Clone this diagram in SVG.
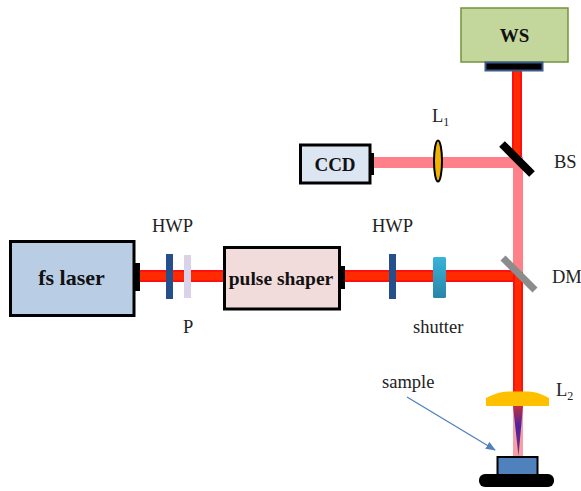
<svg xmlns="http://www.w3.org/2000/svg" width="581" height="491" viewBox="0 0 581 491">
<style>
.t{font-family:"Liberation Serif","Times New Roman",serif;font-size:18.500px;fill:#222}
.b{font-family:"Liberation Serif","Times New Roman",serif;font-weight:bold;fill:#111;text-anchor:middle}
.box{stroke:#000;stroke-width:3}
.red{fill:#ff2a00}
.edge{fill:#ff1010}
.pink{fill:#ff8088}
</style>
<defs>
<linearGradient id="sh" x1="0" y1="0" x2="0" y2="1"><stop offset="0" stop-color="#38b4d8"/><stop offset="1" stop-color="#2a84a8"/></linearGradient>
<linearGradient id="tri" x1="0" y1="0" x2="0" y2="1"><stop offset="0" stop-color="#c03040"/><stop offset="0.4" stop-color="#5020a0"/><stop offset="1" stop-color="#802a70"/></linearGradient>
<marker id="ah" markerWidth="10" markerHeight="8" refX="9" refY="4" orient="auto" markerUnits="userSpaceOnUse"><path d="M0 0L10 4L0 8Z" fill="#4f81bd"/></marker>
</defs>
<g id="connectors">
<rect class="edge" x="139" y="270" width="85" height="12"/>
<rect class="edge" x="345" y="270" width="173" height="12"/>
<rect class="red" x="139" y="272" width="85" height="8"/>
<rect class="red" x="345" y="272" width="173" height="8"/>
<rect class="edge" x="512" y="70" width="10" height="90"/>
<rect class="red" x="514" y="70" width="6" height="90"/>
<rect class="pink" x="374" y="157" width="144" height="11"/>
<rect class="pink" x="513" y="157" width="10" height="118"/>
<rect class="edge" x="513" y="272" width="10" height="120"/>
<rect class="red" x="515" y="276" width="6" height="116"/>
<rect x="513" y="405" width="10" height="52" fill="#f4a0a8"/>
<path d="M513 406H523L518.500 456Z" fill="url(#tri)"/>
<line x1="407" y1="397" x2="495" y2="450" stroke="#4f81bd" stroke-width="1.300" marker-end="url(#ah)"/>
</g>
<g id="ws">
<rect x="461" y="8" width="107" height="54" fill="#c3d69b" stroke="#76923c" stroke-width="1.500"/>
<rect x="485.500" y="62.500" width="57" height="8" fill="#000" stroke="#3a5a8c" stroke-width="2"/>
<text class="b" x="514.500" y="42" font-size="19">WS</text>
</g>
<g id="ccd">
<rect class="box" x="300.500" y="145" width="69.500" height="38" fill="#dce6f2"/>
<rect x="370" y="153" width="4" height="22" fill="#000"/>
<text class="b" x="335" y="171" font-size="19">CCD</text>
</g>
<g id="l1">
<ellipse cx="438" cy="161" rx="4" ry="20.500" fill="#f0b400" stroke="#000" stroke-width="2"/>
<text class="t" x="432" y="122">L<tspan font-size="12" dy="4">1</tspan></text>
</g>
<g id="bs">
<line x1="502" y1="144" x2="532" y2="174" stroke="#000" stroke-width="8"/>
<text class="t" x="554" y="168">BS</text>
</g>
<g id="dm">
<line x1="503" y1="258" x2="535" y2="290" stroke="#8c8c8c" stroke-width="7"/>
<text class="t" x="552" y="283">DM</text>
</g>
<g id="fs-laser">
<rect class="box" x="10.500" y="241.500" width="123.500" height="74" fill="#b9cde5"/>
<rect x="134" y="263" width="6" height="28" fill="#000"/>
<text class="b" x="71.500" y="285" font-size="22">fs laser</text>
</g>
<g id="hwp1">
<rect x="166" y="254" width="7" height="45" fill="#254f8c"/>
<text class="t" x="152" y="232">HWP</text>
</g>
<g id="p">
<rect x="184" y="255" width="7" height="43" fill="#d9d2e9"/>
<text class="t" x="183" y="333">P</text>
</g>
<g id="pulse-shaper">
<rect class="box" x="224.500" y="247.500" width="115" height="61.500" fill="#f2dcdb"/>
<rect x="340" y="266" width="5" height="23" fill="#000"/>
<text class="b" x="281" y="285" font-size="19.500">pulse shaper</text>
</g>
<g id="hwp2">
<rect x="389" y="254" width="7" height="45" fill="#254f8c"/>
<text class="t" x="372" y="232">HWP</text>
</g>
<g id="shutter">
<rect x="433" y="257" width="13" height="41" rx="1.500" fill="url(#sh)"/>
<text class="t" x="413" y="333">shutter</text>
</g>
<g id="l2">
<path d="M486 406V398C498 392 504 391.500 510 391.500H526C532 391.500 538 392 549 398V406Z" fill="#ffc000"/>
<text class="t" x="556" y="396">L<tspan font-size="12" dy="4">2</tspan></text>
</g>
<g id="sample">
<rect x="497.500" y="457" width="40" height="18" fill="#4f81bd" stroke="#000" stroke-width="2"/>
<rect x="479" y="474" width="75" height="13" rx="6" fill="#000"/>
<text class="t" x="382" y="388">sample</text>
</g>
</svg>
